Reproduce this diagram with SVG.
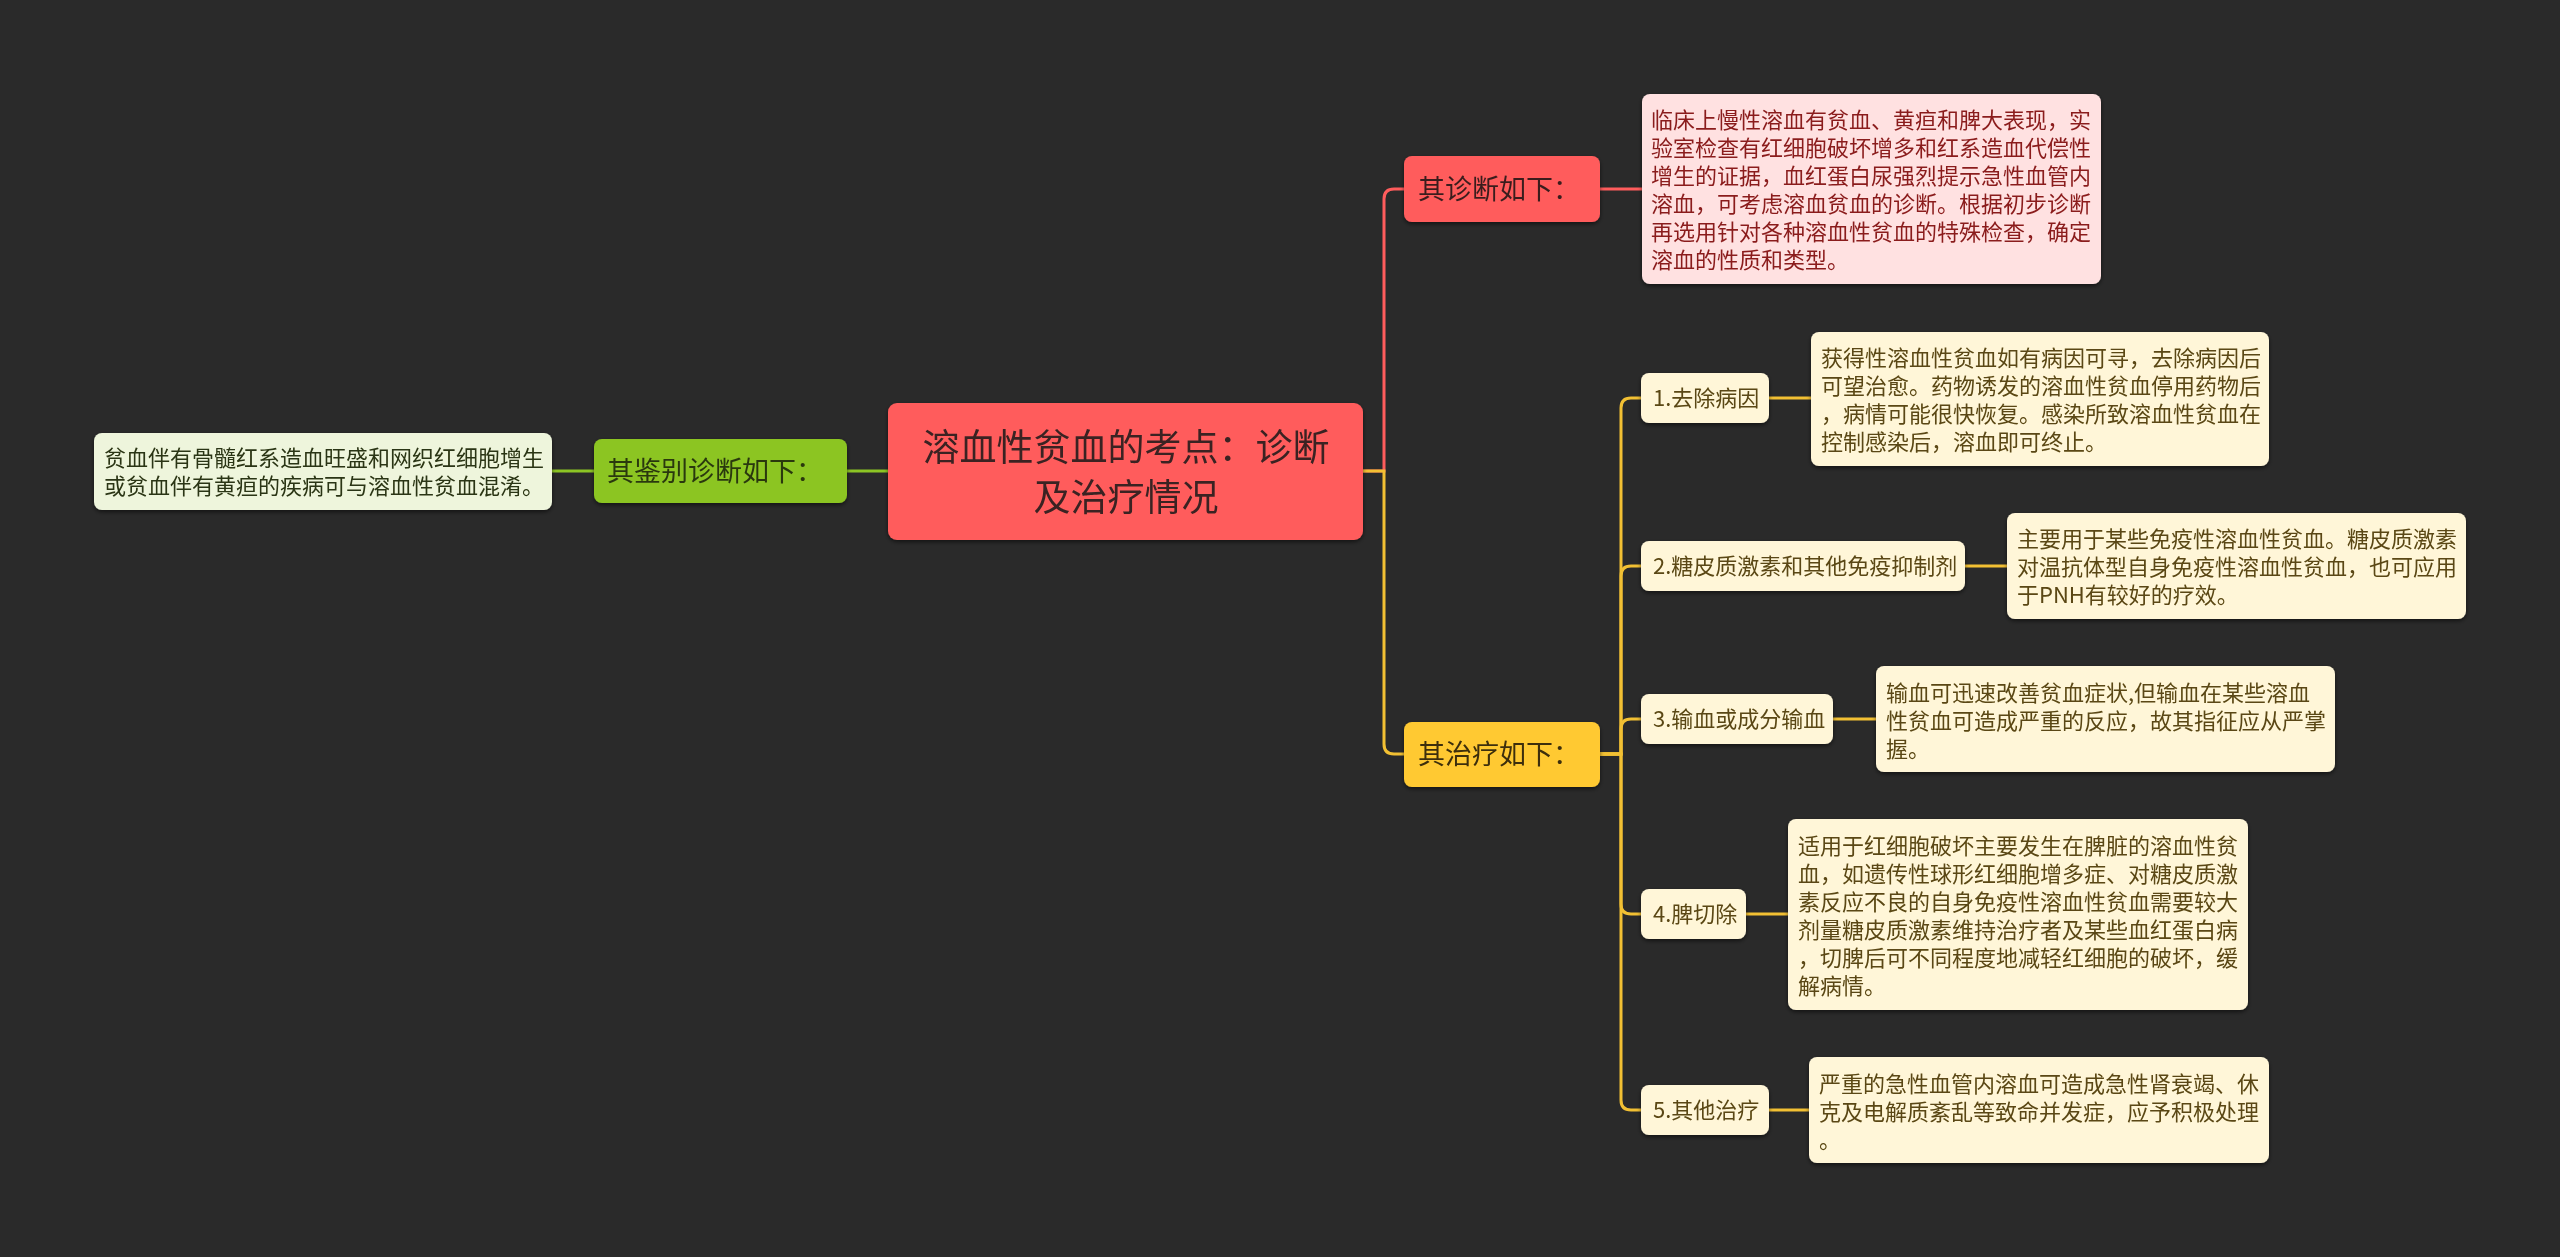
<svg xmlns="http://www.w3.org/2000/svg" width="2560" height="1257" viewBox="0 0 2560 1257">
<defs>
<filter id="sh" x="-10%" y="-10%" width="120%" height="130%">
<feDropShadow dx="0" dy="2" stdDeviation="2" flood-color="#000" flood-opacity="0.55"/>
</filter>
<style>
text{font-family:"Noto Sans CJK SC","Noto Sans",sans-serif;}
.root{fill:#ff5c5c;}
.rootT{font-size:37px;fill:#3a2424;text-anchor:middle;}
.l1T{font-size:27px;}
.red{fill:#ff5c5c;}
.redT{fill:#3a1f1f;}
.yel{fill:#ffc933;}
.yelT{fill:#3d2f0a;}
.grn{fill:#8cc524;}
.grnT{fill:#2a3810;}
.sub{fill:#fff6d8;}
.subT{font-size:22px;fill:#5a4712;}
.leafY{fill:#fff6d8;}
.leafYT{font-size:22px;fill:#5a4712;}
.leafR{fill:#ffe1e1;}
.leafRT{font-size:22px;fill:#8a1a1a;}
.leafG{fill:#eef5dc;}
.leafGT{font-size:22px;fill:#2a3412;}
.c{fill:none;stroke-width:3;}
.cr{stroke:#ff5c5c;}
.cy{stroke:#f2c033;}
.cg{stroke:#8cc524;}
</style>
</defs>
<rect x="0" y="0" width="2560" height="1257" fill="#2a2a2a"/>

<g id="connectors">
<path class="c cr" d="M1363,471 H1384 V199 Q1384,189 1394,189 H1404"/>
<path class="c cr" d="M1600,189 H1642"/>
<path class="c cy" d="M1363,471 H1384 V744 Q1384,754 1394,754 H1404"/>
<path class="c cy" d="M1600,754 H1621 V408 Q1621,398 1631,398 H1641"/>
<path class="c cy" d="M1600,754 H1621 V576 Q1621,566 1631,566 H1641"/>
<path class="c cy" d="M1600,754 H1621 V729 Q1621,719 1631,719 H1641"/>
<path class="c cy" d="M1600,754 H1621 V904 Q1621,914 1631,914 H1641"/>
<path class="c cy" d="M1600,754 H1621 V1100 Q1621,1110 1631,1110 H1641"/>
<path class="c cy" d="M1769,398 H1811"/>
<path class="c cy" d="M1965,566 H2007"/>
<path class="c cy" d="M1833,719 H1876"/>
<path class="c cy" d="M1746,914 H1788"/>
<path class="c cy" d="M1769,1110 H1809"/>
<path class="c cg" d="M888,471 H847"/>
<path class="c cg" d="M594,471 H552"/>
</g>

<g id="root" filter="url(#sh)">
<rect class="root" x="888" y="403" width="475" height="137" rx="9"/>
<text class="rootT" x="1126" y="461">溶血性贫血的考点：诊断</text>
<text class="rootT" x="1126" y="511">及治疗情况</text>
</g>

<g id="diag" filter="url(#sh)">
<rect class="red" x="1404" y="156" width="196" height="66" rx="8"/>
<text class="l1T redT" x="1418" y="199">其诊断如下：</text>
</g>
<g id="diag-leaf" filter="url(#sh)">
<rect class="leafR" x="1642" y="94" width="459" height="190" rx="8"/>
<text class="leafRT" x="1651" y="128">临床上慢性溶血有贫血、黄疸和脾大表现，实</text>
<text class="leafRT" x="1651" y="156">验室检查有红细胞破坏增多和红系造血代偿性</text>
<text class="leafRT" x="1651" y="184">增生的证据，血红蛋白尿强烈提示急性血管内</text>
<text class="leafRT" x="1651" y="212">溶血，可考虑溶血贫血的诊断。根据初步诊断</text>
<text class="leafRT" x="1651" y="240">再选用针对各种溶血性贫血的特殊检查，确定</text>
<text class="leafRT" x="1651" y="268">溶血的性质和类型。</text>
</g>

<g id="treat" filter="url(#sh)">
<rect class="yel" x="1404" y="722" width="196" height="65" rx="8"/>
<text class="l1T yelT" x="1418" y="764">其治疗如下：</text>
</g>

<g id="t1" filter="url(#sh)">
<rect class="sub" x="1641" y="373" width="128" height="50" rx="8"/>
<text class="subT" x="1653" y="406">1.去除病因</text>
</g>
<g id="t1-leaf" filter="url(#sh)">
<rect class="leafY" x="1811" y="332" width="458" height="134" rx="8"/>
<text class="leafYT" x="1821" y="366">获得性溶血性贫血如有病因可寻，去除病因后</text>
<text class="leafYT" x="1821" y="394">可望治愈。药物诱发的溶血性贫血停用药物后</text>
<text class="leafYT" x="1821" y="422">，病情可能很快恢复。感染所致溶血性贫血在</text>
<text class="leafYT" x="1821" y="450">控制感染后，溶血即可终止。</text>
</g>

<g id="t2" filter="url(#sh)">
<rect class="sub" x="1641" y="541" width="324" height="50" rx="8"/>
<text class="subT" x="1653" y="574">2.糖皮质激素和其他免疫抑制剂</text>
</g>
<g id="t2-leaf" filter="url(#sh)">
<rect class="leafY" x="2007" y="513" width="459" height="106" rx="8"/>
<text class="leafYT" x="2017" y="547">主要用于某些免疫性溶血性贫血。糖皮质激素</text>
<text class="leafYT" x="2017" y="575">对温抗体型自身免疫性溶血性贫血，也可应用</text>
<text class="leafYT" x="2017" y="603">于PNH有较好的疗效。</text>
</g>

<g id="t3" filter="url(#sh)">
<rect class="sub" x="1641" y="694" width="192" height="50" rx="8"/>
<text class="subT" x="1653" y="727">3.输血或成分输血</text>
</g>
<g id="t3-leaf" filter="url(#sh)">
<rect class="leafY" x="1876" y="666" width="459" height="106" rx="8"/>
<text class="leafYT" x="1886" y="701">输血可迅速改善贫血症状,但输血在某些溶血</text>
<text class="leafYT" x="1886" y="729">性贫血可造成严重的反应，故其指征应从严掌</text>
<text class="leafYT" x="1886" y="757">握。</text>
</g>

<g id="t4" filter="url(#sh)">
<rect class="sub" x="1641" y="889" width="105" height="50" rx="8"/>
<text class="subT" x="1653" y="922">4.脾切除</text>
</g>
<g id="t4-leaf" filter="url(#sh)">
<rect class="leafY" x="1788" y="819" width="460" height="191" rx="8"/>
<text class="leafYT" x="1798" y="854">适用于红细胞破坏主要发生在脾脏的溶血性贫</text>
<text class="leafYT" x="1798" y="882">血，如遗传性球形红细胞增多症、对糖皮质激</text>
<text class="leafYT" x="1798" y="910">素反应不良的自身免疫性溶血性贫血需要较大</text>
<text class="leafYT" x="1798" y="938">剂量糖皮质激素维持治疗者及某些血红蛋白病</text>
<text class="leafYT" x="1798" y="966">，切脾后可不同程度地减轻红细胞的破坏，缓</text>
<text class="leafYT" x="1798" y="994">解病情。</text>
</g>

<g id="t5" filter="url(#sh)">
<rect class="sub" x="1641" y="1085" width="128" height="50" rx="8"/>
<text class="subT" x="1653" y="1118">5.其他治疗</text>
</g>
<g id="t5-leaf" filter="url(#sh)">
<rect class="leafY" x="1809" y="1057" width="460" height="106" rx="8"/>
<text class="leafYT" x="1819" y="1092">严重的急性血管内溶血可造成急性肾衰竭、休</text>
<text class="leafYT" x="1819" y="1120">克及电解质紊乱等致命并发症，应予积极处理</text>
<text class="leafYT" x="1819" y="1148">。</text>
</g>

<g id="diff" filter="url(#sh)">
<rect class="grn" x="594" y="439" width="253" height="64" rx="8"/>
<text class="l1T grnT" x="607" y="481">其鉴别诊断如下：</text>
</g>
<g id="diff-leaf" filter="url(#sh)">
<rect class="leafG" x="94" y="433" width="458" height="77" rx="8"/>
<text class="leafGT" x="104" y="466">贫血伴有骨髓红系造血旺盛和网织红细胞增生</text>
<text class="leafGT" x="104" y="494">或贫血伴有黄疸的疾病可与溶血性贫血混淆。</text>
</g>
</svg>
